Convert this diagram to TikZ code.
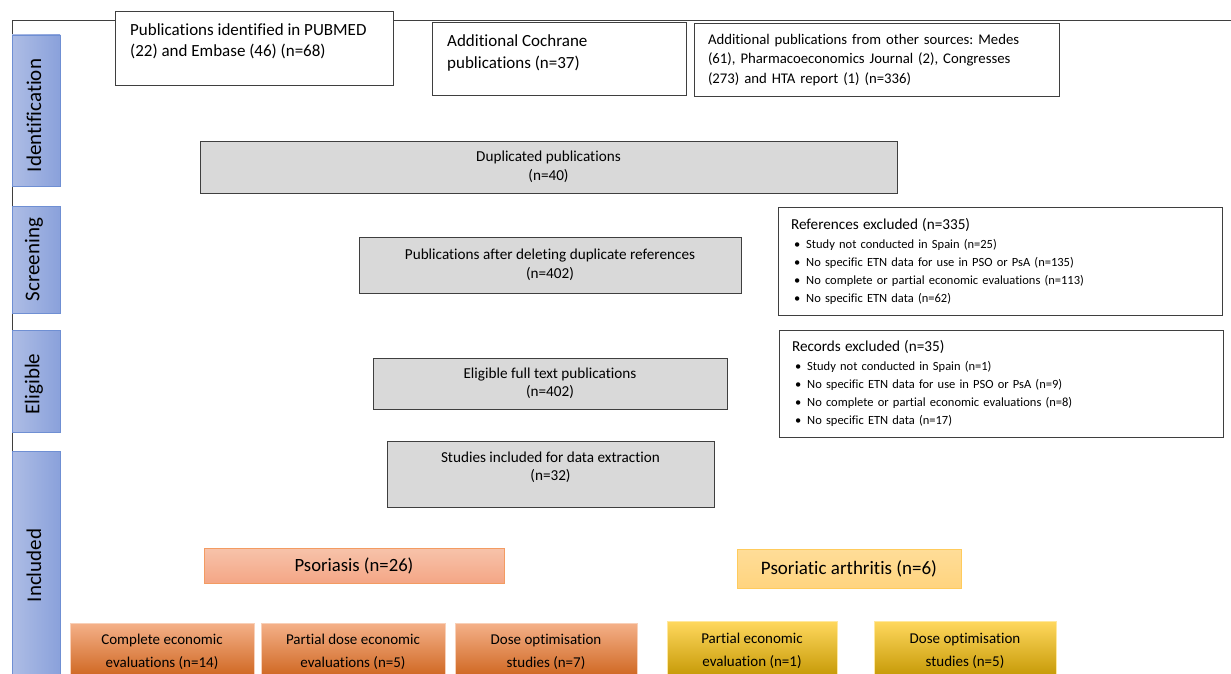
\documentclass[tikz,border=0pt]{standalone}
\usepackage{fontspec}
\setmainfont{Carlito}[Ligatures=NoCommon]
\usepackage{tikz}
\usetikzlibrary{positioning}
\frenchspacing

\definecolor{edge}{HTML}{3F3F3F}
\definecolor{grayfill}{HTML}{D9D9D9}
\definecolor{stageL}{HTML}{AEBDE5}
\definecolor{stageR}{HTML}{8AA1DB}
\definecolor{stageedge}{HTML}{6F8FD3}
\definecolor{psotop}{HTML}{F7C3AA}
\definecolor{psobot}{HTML}{F4A686}
\definecolor{psoedge}{HTML}{F39B62}
\definecolor{psatop}{HTML}{FFDD98}
\definecolor{psabot}{HTML}{FFD47F}
\definecolor{psaedge}{HTML}{FFCB5C}
\definecolor{orgtop}{HTML}{F4B088}
\definecolor{orgbot}{HTML}{CC6119}
\definecolor{yeltop}{HTML}{FFD85E}
\definecolor{yelbot}{HTML}{C29500}

\tikzset{
    whitebox/.style={draw=edge, line width=0.9pt, fill=white, inner sep=0pt},
    graybox/.style={draw=edge, line width=0.9pt, fill=grayfill, align=center,
        font=\fontsize{15.2}{18.5}\selectfont},
    exclbox/.style={draw=edge, line width=0.9pt, fill=white, align=left,
        inner xsep=13pt, font=\fontsize{12.5}{18}\selectfont},
    stagebar/.style={draw=stageedge, line width=0.8pt, left color=stageL, right color=stageR,
        minimum width=48pt, inner sep=0pt},
    stagetext/.style={rotate=90, font=\fontsize{21}{24}\selectfont},
    orgbox/.style={draw=orgtop!60!white, line width=0.5pt, top color=orgtop, bottom color=orgbot,
        align=center, minimum height=57pt, font=\fontsize{15}{23}\selectfont},
    yelbox/.style={draw=yeltop!60!white, line width=0.5pt, top color=yeltop, bottom color=yelbot,
        align=center, minimum height=59pt, font=\fontsize{15}{23}\selectfont},
}

\newcommand{\itm}{\hspace*{3pt}\textbullet\hspace{6pt}}

\begin{document}
\begin{tikzpicture}[x=1pt, y=-1pt]
    \useasboundingbox (0,0) rectangle (1231,674);

    % frame
    \draw[edge, line width=0.9pt] (12,680) -- (12,20) -- (1232,20);

    % stages
    \node[stagebar, minimum height=151pt] (ident) at (36,110.5) {};
    \node[stagetext] at ([xshift=-2pt, yshift=-5pt]ident.center) {Identification};
    \node[stagebar, minimum height=107pt] (screen) at (36,259.5) {};
    \node[stagetext] at ([xshift=-2pt]screen.center) {Screening};
    \node[stagebar, minimum height=102pt] (elig) at (36,381) {};
    \node[stagetext] at ([xshift=-2pt, yshift=-3pt]elig.center) {Eligible};
    \node[stagebar, minimum height=229pt] (incl) at (36,565.5) {};
    \node[stagetext] at ([xshift=-2pt]incl.center) {Included};

    % identification
    \node[whitebox, minimum width=278pt, minimum height=74pt] (pubmed) at (254,48) {};
    \node[anchor=north west, align=left, inner sep=0pt, font=\fontsize{17}{21}\selectfont]
        (pubmedtext) at (130,23) {Publications identified in PUBMED\\(22) and Embase (46) (n=68)};
    \node[whitebox, minimum width=254pt, minimum height=73pt] (cochrane) at (559,58.5) {};
    \node[anchor=north west, align=left, inner sep=0pt, font=\fontsize{17}{22}\selectfont]
        (cochranetext) at (447,34) {Additional Cochrane\\publications (n=37)};
    \node[whitebox, minimum width=365pt, minimum height=73pt, align=left, text width=337pt,
        font=\fontsize{14.75}{19.5}\selectfont] (other) at (876.5,60)
        {Additional publications from other sources: Medes\\(61), Pharmacoeconomics Journal (2), Congresses\\(273) and HTA report (1) (n=336)};

    \node[graybox, minimum width=697pt, minimum height=52pt] (dup) at (548.5,167)
        {Duplicated publications\\(n=40)};

    % screening
    \node[graybox, minimum width=382pt, minimum height=56pt] (after) at (550,265)
        {Publications after deleting duplicate references\\(n=402)};
    \node[exclbox, text width=418pt, minimum height=108pt] (refexcl) at (1000,261)
        {{\fontsize{15.2}{18}\selectfont References excluded (n=335)}\\[1pt]
         \itm Study not conducted in Spain (n=25)\\
         \itm No specific ETN data for use in PSO or PsA (n=135)\\
         \itm No complete or partial economic evaluations (n=113)\\
         \itm No specific ETN data (n=62)};

    % eligible
    \node[graybox, minimum width=354pt, minimum height=51pt] (fulltext) at (550,383.5)
        {Eligible full text publications\\(n=402)};
    \node[exclbox, text width=418pt, minimum height=107pt] (recexcl) at (1001,383.5)
        {{\fontsize{15.2}{18}\selectfont Records excluded (n=35)}\\[1pt]
         \itm Study not conducted in Spain (n=1)\\
         \itm No specific ETN data for use in PSO or PsA (n=9)\\
         \itm No complete or partial economic evaluations (n=8)\\
         \itm No specific ETN data (n=17)};

    % included
    \node[graybox, minimum width=327pt, minimum height=66pt, text depth=16pt] (studies) at (550.5,474)
        {Studies included for data extraction\\(n=32)};

    \node[draw=psoedge, line width=0.8pt, top color=psotop, bottom color=psobot,
        minimum width=300pt, minimum height=35pt, font=\fontsize{18.7}{20}\selectfont] (pso) at (354,565.5)
        {Psoriasis (n=26)};
    \node[draw=psaedge, line width=0.8pt, top color=psatop, bottom color=psabot,
        minimum width=224pt, minimum height=39pt, font=\fontsize{19}{20}\selectfont] (psa) at (849,568.5)
        {Psoriatic arthritis (n=6)};

    \node[orgbox, minimum width=184pt] (psocomplete) at (162,652) {Complete economic\\evaluations (n=14)};
    \node[orgbox, minimum width=184pt] (psopartial) at (353,652) {Partial dose economic\\evaluations (n=5)};
    \node[orgbox, minimum width=182pt] (psodose) at (546,652) {Dose optimisation\\studies (n=7)};

    \node[yelbox, minimum width=170pt] (psapartial) at (752,650.5) {Partial economic\\evaluation (n=1)};
    \node[yelbox, minimum width=182pt] (psadose) at (965,650.5) {Dose optimisation\\studies (n=5)};
\end{tikzpicture}
\end{document}
